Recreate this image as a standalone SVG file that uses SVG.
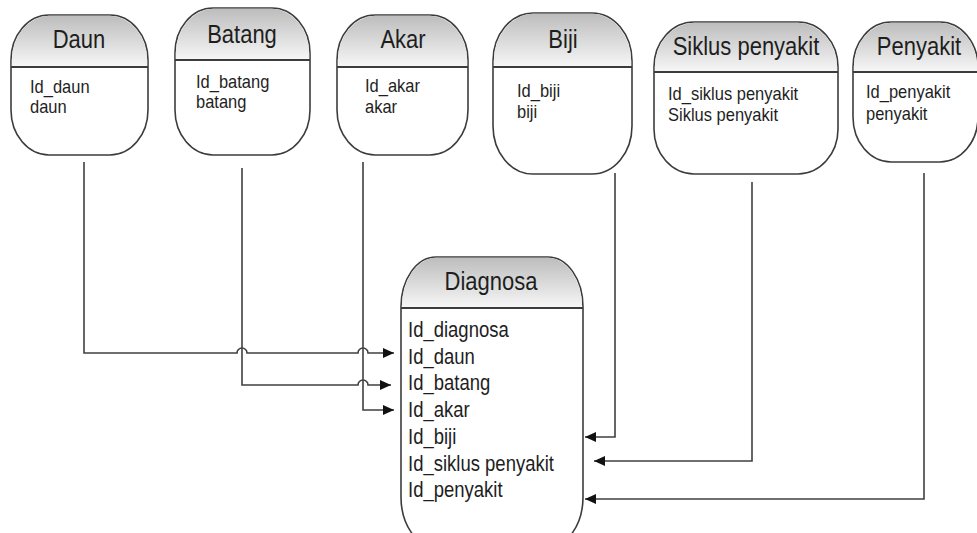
<svg xmlns="http://www.w3.org/2000/svg" width="977" height="533" viewBox="0 0 977 533">
  <style>
    .box { fill: #ffffff; stroke: #3c3c3c; stroke-width: 1.6; }
    .head { fill: url(#headFill); stroke: none; }
    .div { stroke: #3c3c3c; stroke-width: 1.8; }
    .title { font-family: "Liberation Sans", Arial, sans-serif; font-size: 22px; fill: #1e1e1e; text-anchor: middle; }
    .attr { font-family: "Liberation Sans", Arial, sans-serif; font-size: 16.5px; fill: #1e1e1e; }
    .attr2 { font-family: "Liberation Sans", Arial, sans-serif; font-size: 18.5px; fill: #1e1e1e; }
    .link { fill: none; stroke: #404040; stroke-width: 1.6; }
    .arrow { marker-end: url(#arrowHead); }
  </style>
  <defs>
    <linearGradient id="headFill" x1="0" y1="0" x2="0" y2="1">
      <stop offset="0" stop-color="#bdbdbd"/>
      <stop offset="1" stop-color="#f7f7f7"/>
    </linearGradient>
    <marker id="arrowHead" markerUnits="userSpaceOnUse" markerWidth="12" markerHeight="10" refX="11" refY="5" orient="auto">
      <path d="M0,0 L11,5 L0,10 Z" fill="#111111"/>
    </marker>
  </defs>

  <rect width="977" height="533" fill="#ffffff"/>

  <!-- Daun -->
  <g id="daun">
    <path class="box" d="M49,15 H110 A38,45 0 0 1 148,60 V110 A38,45 0 0 1 110,155 H49 A38,45 0 0 1 11,110 V60 A38,45 0 0 1 49,15 Z"/>
    <path class="head" d="M11.8,67 V60 A38,45 0 0 1 49,15.8 H110 A38,45 0 0 1 147.2,60 V67 Z"/>
    <line class="div" x1="11" y1="67" x2="148" y2="67"/>
    <text class="title" transform="translate(79 48) scale(1 1.15)">Daun</text>
    <text class="attr" transform="translate(30 93) scale(1 1.15)">Id_daun</text>
    <text class="attr" transform="translate(30 113) scale(1 1.15)">daun</text>
  </g>

  <!-- Batang -->
  <g id="batang">
    <path class="box" d="M213,8 H272 A38,45 0 0 1 310,53 V110 A38,45 0 0 1 272,155 H213 A38,45 0 0 1 175,110 V53 A38,45 0 0 1 213,8 Z"/>
    <path class="head" d="M175.8,60 V53 A38,45 0 0 1 213,8.8 H272 A38,45 0 0 1 309.2,53 V60 Z"/>
    <line class="div" x1="175" y1="60" x2="310" y2="60"/>
    <text class="title" transform="translate(242 43) scale(1 1.15)">Batang</text>
    <text class="attr" transform="translate(196 88) scale(1 1.15)">Id_batang</text>
    <text class="attr" transform="translate(196 108) scale(1 1.15)">batang</text>
  </g>

  <!-- Akar -->
  <g id="akar">
    <path class="box" d="M375,15 H430 A38,45 0 0 1 468,60 V110 A38,45 0 0 1 430,155 H375 A38,45 0 0 1 337,110 V60 A38,45 0 0 1 375,15 Z"/>
    <path class="head" d="M337.8,67 V60 A38,45 0 0 1 375,15.8 H430 A38,45 0 0 1 467.2,60 V67 Z"/>
    <line class="div" x1="337" y1="67" x2="468" y2="67"/>
    <text class="title" transform="translate(403 48) scale(1 1.15)">Akar</text>
    <text class="attr" transform="translate(365 92) scale(1 1.15)">Id_akar</text>
    <text class="attr" transform="translate(365 113) scale(1 1.15)">akar</text>
  </g>

  <!-- Biji -->
  <g id="biji">
    <path class="box" d="M533,13 H592 A40,48 0 0 1 632,61 V126 A40,48 0 0 1 592,174 H533 A40,48 0 0 1 493,126 V61 A40,48 0 0 1 533,13 Z"/>
    <path class="head" d="M493.8,67 V61 A40,48 0 0 1 533,13.8 H592 A40,48 0 0 1 631.2,61 V67 Z"/>
    <line class="div" x1="493" y1="67" x2="632" y2="67"/>
    <text class="title" transform="translate(563 48) scale(1 1.15)">Biji</text>
    <text class="attr" transform="translate(517 97) scale(1 1.15)">Id_biji</text>
    <text class="attr" transform="translate(517 118) scale(1 1.15)">biji</text>
  </g>

  <!-- Siklus penyakit -->
  <g id="siklus-penyakit">
    <path class="box" d="M694,22 H798 A40,45 0 0 1 838,67 V129 A40,45 0 0 1 798,174 H694 A40,45 0 0 1 654,129 V67 A40,45 0 0 1 694,22 Z"/>
    <path class="head" d="M654.8,72 V67 A40,45 0 0 1 694,22.8 H798 A40,45 0 0 1 837.2,67 V72 Z"/>
    <line class="div" x1="654" y1="72" x2="838" y2="72"/>
    <text class="title" transform="translate(746 55) scale(1 1.15)">Siklus penyakit</text>
    <text class="attr" transform="translate(668 100) scale(1 1.15)">Id_siklus penyakit</text>
    <text class="attr" transform="translate(668 121) scale(1 1.15)">Siklus penyakit</text>
  </g>

  <!-- Penyakit -->
  <g id="penyakit">
    <path class="box" d="M891,22 H940 A38,45 0 0 1 978,67 V117 A38,45 0 0 1 940,162 H891 A38,45 0 0 1 853,117 V67 A38,45 0 0 1 891,22 Z"/>
    <path class="head" d="M853.8,72 V67 A38,45 0 0 1 891,22.8 H940 A38,45 0 0 1 977.2,67 V72 Z"/>
    <line class="div" x1="853" y1="72" x2="978" y2="72"/>
    <text class="title" transform="translate(919 55) scale(1 1.15)">Penyakit</text>
    <text class="attr" transform="translate(866 98) scale(1 1.15)">Id_penyakit</text>
    <text class="attr" transform="translate(866 120) scale(1 1.15)">penyakit</text>
  </g>

  <!-- Diagnosa -->
  <g id="diagnosa">
    <path class="box" d="M436,257 H548 A35,50 0 0 1 583,307 V497 A35,50 0 0 1 548,547 H436 A35,50 0 0 1 401,497 V307 A35,50 0 0 1 436,257 Z"/>
    <path class="head" d="M401.8,308 V307 A35,50 0 0 1 436,257.8 H548 A35,50 0 0 1 582.2,307 V308 Z"/>
    <line class="div" x1="401" y1="308" x2="583" y2="308"/>
    <text class="title" transform="translate(491 290) scale(1 1.15)">Diagnosa</text>
    <text class="attr2" transform="translate(408 337) scale(1 1.15)">Id_diagnosa</text>
    <text class="attr2" transform="translate(408 364) scale(1 1.15)">Id_daun</text>
    <text class="attr2" transform="translate(408 390) scale(1 1.15)">Id_batang</text>
    <text class="attr2" transform="translate(408 417) scale(1 1.15)">Id_akar</text>
    <text class="attr2" transform="translate(408 444) scale(1 1.15)">Id_biji</text>
    <text class="attr2" transform="translate(408 471) scale(1 1.15)">Id_siklus penyakit</text>
    <text class="attr2" transform="translate(408 497) scale(1 1.15)">Id_penyakit</text>
  </g>

  <!-- Connectors -->
  <g id="connectors">
    <path class="link arrow" d="M84,162 V353 H237 A5,5 0 0 1 247,353 H358 A5,5 0 0 1 368,353 H394"/>
    <path class="link arrow" d="M242,168 V385 H358 A5,5 0 0 1 368,385 H391"/>
    <path class="link arrow" d="M363,162 V410 H394"/>
    <path class="link arrow" d="M615,173 V437 H585"/>
    <path class="link arrow" d="M752,182 V461 H594"/>
    <path class="link arrow" d="M924,173 V499 H585"/>
  </g>
</svg>
